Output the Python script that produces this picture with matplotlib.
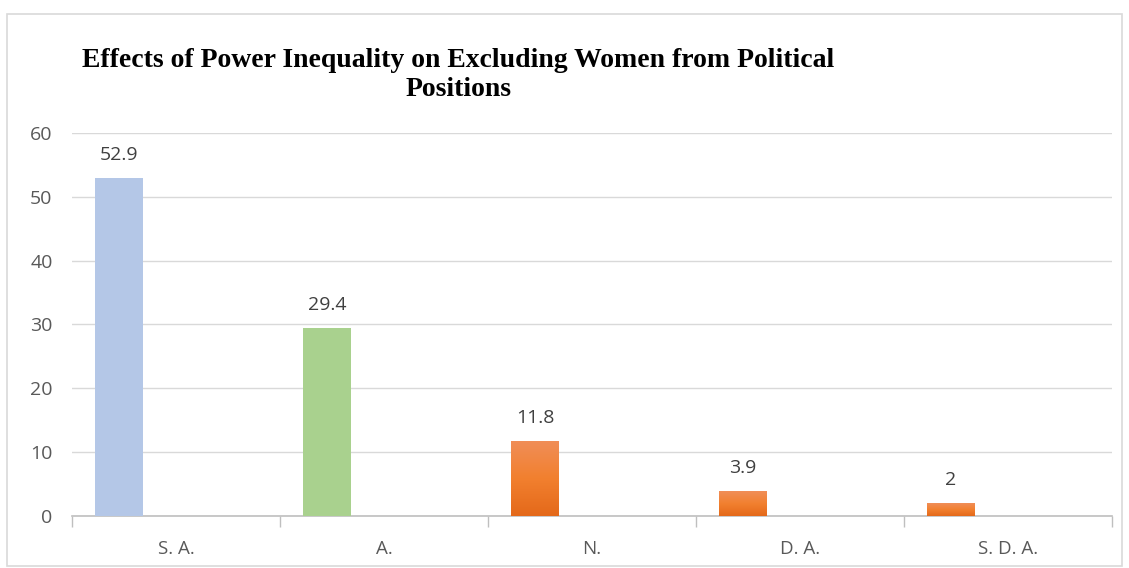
import matplotlib.pyplot as plt
import numpy as np
from matplotlib.colors import LinearSegmentedColormap
from matplotlib.patches import Rectangle

categories = ["S. A.", "A.", "N.", "D. A.", "S. D. A."]
values = [52.9, 29.4, 11.8, 3.9, 2]
colors = ["#B4C7E7", "#A9D18E", "#F07F3A", "#F07F3A", "#F07F3A"]
gradient = [False, False, True, True, True]

fig = plt.figure(figsize=(11.29, 5.68), dpi=100)
fig.patches.append(Rectangle((0.006, 0.004), 0.988, 0.972, transform=fig.transFigure,
                             fill=False, edgecolor="#D9D9D9", linewidth=1.2))
ax = fig.add_axes([0.0638, 0.0915, 0.9212, 0.6745])

x = np.arange(len(categories))
offset = -0.274
width = 0.23
bars = ax.bar(x + offset, values, width=width, color=colors, zorder=3)

# orange gradient fill like the office chart
cmap = LinearSegmentedColormap.from_list("org", ["#E4691A", "#F2802F", "#F08E58"])
for b, g in zip(bars, gradient):
    if not g:
        continue
    x0, w, h = b.get_x(), b.get_width(), b.get_height()
    grad = np.linspace(0, 1, 100).reshape(-1, 1)
    im = ax.imshow(grad, cmap=cmap, aspect="auto", origin="lower",
                   extent=(x0, x0 + w, 0, h), zorder=4)
    im.set_clip_path(b)

for xi, v in zip(x, values):
    ax.text(xi + offset, v + 2.2, f"{v:g}", ha="center", va="bottom",
            fontsize=14, color="#404040", family="Open Sans")

ax.set_xlim(-0.5, len(categories) - 0.5)
ax.set_ylim(0, 60)
ax.set_yticks(range(0, 61, 10))
ax.set_xticks(x)
ax.set_xticklabels(categories)
ax.set_xticks(np.arange(-0.5, len(categories), 1), minor=True)
ax.tick_params(axis="x", which="major", length=0, pad=17, labelsize=13.5, labelcolor="#595959")
ax.tick_params(axis="x", which="minor", length=8, color="#BFBFBF", width=1)
ax.tick_params(axis="y", length=0, pad=14, labelsize=14, labelcolor="#595959")
for lab in ax.get_xticklabels() + ax.get_yticklabels():
    lab.set_family("Open Sans")

ax.grid(axis="y", color="#D9D9D9", linewidth=1, zorder=0)
for s in ["top", "right", "left"]:
    ax.spines[s].set_visible(False)
ax.spines["bottom"].set_color("#BFBFBF")
ax.spines["bottom"].set_linewidth(1.2)

fig.text(0.406, 0.868, "Effects of Power Inequality on Excluding Women from Political\nPositions",
         ha="center", va="center", fontsize=20, fontweight="bold",
         family="Liberation Serif", linespacing=1.25)

fig.savefig("out.png", dpi=100)
